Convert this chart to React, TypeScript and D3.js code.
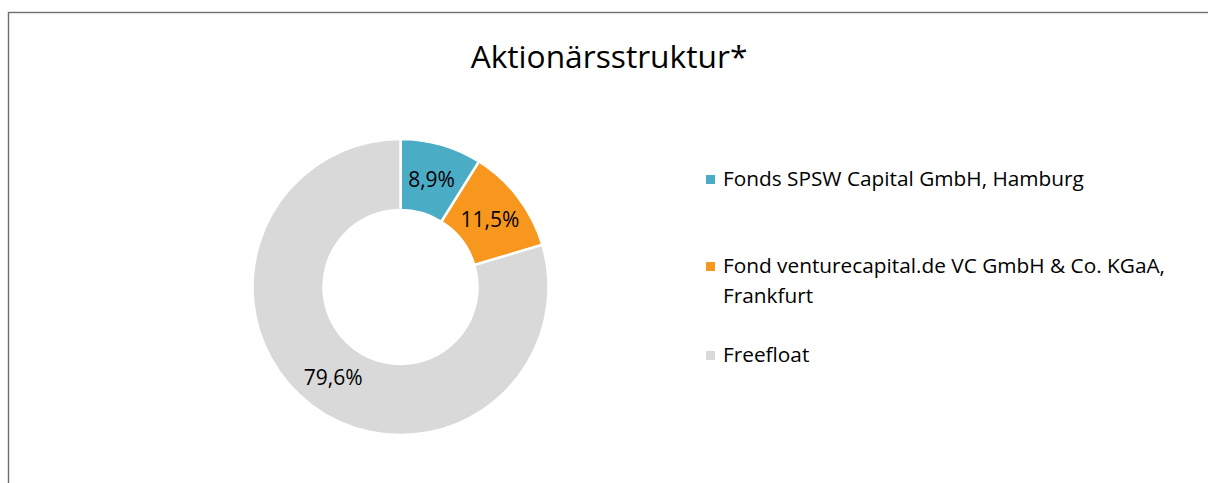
import React from "react";
import * as d3 from "d3";

const categories = [
  "Fonds SPSW Capital GmbH, Hamburg",
  "Fond venturecapital.de VC GmbH & Co. KGaA, Frankfurt",
  "Freefloat",
];
const legendLines = [
  ["Fonds SPSW Capital GmbH, Hamburg"],
  ["Fond venturecapital.de VC GmbH & Co. KGaA,", "Frankfurt"],
  ["Freefloat"],
];
const values = [8.9, 11.5, 79.6];
const valueLabels = ["8,9%", "11,5%", "79,6%"];
const colors = ["#4BACC6", "#F7971E", "#D9D9D9"];
const title = "Aktionärsstruktur*";

const W = 1208;
const H = 483;

export default function App() {
  const cx = 400.5;
  const cy = 287;
  const outerR = 148;
  const innerR = 77;

  const pie = d3
    .pie<number>()
    .sort(null)
    .value((d) => d)
    .startAngle(0)
    .endAngle(2 * Math.PI);
  const arcs = pie(values);
  const arc = d3
    .arc<d3.PieArcDatum<number>>()
    .innerRadius(innerR)
    .outerRadius(outerR);

  const legendY = [186, 273, 362];
  const font = "'Open Sans', 'Noto Sans', sans-serif";

  return (
    <svg
      width={W}
      height={H}
      style={{ position: "absolute", left: 0, top: 0, display: "block" }}
      fontFamily={font}
    >
      <rect x={0} y={0} width={W} height={H} fill="#fff" />
      <rect
        x={8.5}
        y={12.5}
        width={1220}
        height={490}
        fill="#fff"
        stroke="#6e6e6e"
        strokeWidth={1.4}
      />
      <text x={609} y={68} textAnchor="middle" fontSize={31.7} fill="#000">
        {title}
      </text>
      <g transform={`translate(${cx},${cy})`}>
        {arcs.map((a, i) => (
          <path
            key={categories[i]}
            d={arc(a) || ""}
            fill={colors[i]}
            stroke="#fff"
            strokeWidth={2.5}
          />
        ))}
        {arcs.map((a, i) => {
          const [x, y] = arc.centroid(a);
          return (
            <text
              key={"l" + i}
              x={x}
              y={y}
              textAnchor="middle"
              dominantBaseline="central"
              fontSize={21}
              fill="#000"
            >
              {valueLabels[i]}
            </text>
          );
        })}
      </g>
      <g>
        {legendLines.map((lines, i) => (
          <g key={"lg" + i}>
            <rect
              x={706}
              y={legendY[i] - 11}
              width={9}
              height={9}
              fill={colors[i]}
            />
            {lines.map((ln, j) => (
              <text
                key={j}
                x={723}
                y={legendY[i] + j * 30}
                fontSize={20.8}
                fill="#000"
              >
                {ln}
              </text>
            ))}
          </g>
        ))}
      </g>
    </svg>
  );
}
